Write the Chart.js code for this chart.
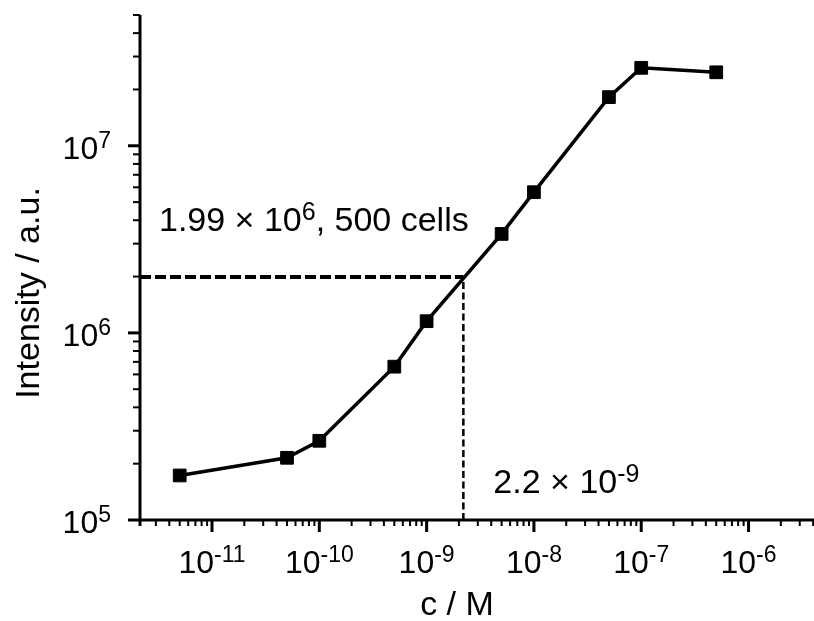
<!DOCTYPE html>
<html>
<head>
<meta charset="utf-8">
<script src="https://cdn.jsdelivr.net/npm/chart.js@4.4.0/dist/chart.umd.min.js"></script>
<style>
  html, body { margin: 0; padding: 0; background: #fff; }
  #chart { display: block; }
</style>
</head>
<body>
<canvas id="chart" width="814" height="621"></canvas>
<script>
// concentration (M) vs. measured intensity (a.u.)
const concM = [5e-12, 5e-11, 1e-10, 5e-10, 1e-9, 5e-9, 1e-8, 5e-8, 1e-7, 5e-7];
const intensity = [1.73e5, 2.15e5, 2.65e5, 6.6e5, 1.155e6, 3.38e6, 5.65e6, 1.82e7, 2.61e7, 2.47e7];

// read-out for 500 cells
const thresholdIntensity = 1.99e6;
const thresholdConc = 2.2e-9;
const thresholdCells = 500;

// decade labels
const xExponents = [-11, -10, -9, -8, -7, -6];
const yExponents = [5, 6, 7];

const X_MIN = Math.pow(10, -11.671), X_MAX = Math.pow(10, -5.39);
const Y_MIN = 1e5, Y_MAX = 5e7;

const FONT = '"Liberation Sans", Arial, sans-serif';
const TICK_PX = 32, TICK_SUP_PX = 23;
const NOTE_PX = 34, NOTE_SUP_PX = 25;
const TITLE_PX = 34;
const SUP_RISE = 11;

// 1..9 x 10^e between min and max, flagging the decades
function logTicks(min, max) {
  const out = [];
  for (let e = Math.floor(Math.log10(min)); e <= Math.ceil(Math.log10(max)); e++) {
    for (let m = 1; m <= 9; m++) {
      const v = m * Math.pow(10, e);
      if (v >= min * 0.999 && v <= max * 1.001) out.push({ v, major: m === 1 });
    }
  }
  return out;
}

// "10" with a raised exponent; returns the width drawn
function drawPower(ctx, exp, x, y, align, size, supSize) {
  const base = '10', sup = String(exp);
  ctx.font = size + 'px ' + FONT;
  const wb = ctx.measureText(base).width;
  ctx.font = supSize + 'px ' + FONT;
  const ws = ctx.measureText(sup).width;
  let left = x;
  if (align === 'center') left = x - (wb + ws) / 2;
  if (align === 'right') left = x - (wb + ws);
  ctx.textAlign = 'left';
  ctx.textBaseline = 'alphabetic';
  ctx.font = size + 'px ' + FONT;
  ctx.fillText(base, left, y);
  ctx.font = supSize + 'px ' + FONT;
  ctx.fillText(sup, left + wb, y - SUP_RISE);
  return wb + ws;
}

// plain text run, returns the width drawn
function drawRun(ctx, text, x, y, size) {
  ctx.font = size + 'px ' + FONT;
  ctx.textAlign = 'left';
  ctx.textBaseline = 'alphabetic';
  ctx.fillText(text, x, y);
  return ctx.measureText(text).width;
}

const axesPlugin = {
  id: 'axes',
  afterDraw(chart) {
    const { ctx, chartArea: a, scales: { x, y } } = chart;
    ctx.save();
    ctx.fillStyle = '#000';
    ctx.strokeStyle = '#000';
    ctx.lineCap = 'butt';

    // axis lines
    ctx.lineWidth = 3;
    ctx.beginPath();
    ctx.moveTo(a.left, a.top);
    ctx.lineTo(a.left, a.bottom + 6);
    ctx.moveTo(a.left - 1.5, a.bottom);
    ctx.lineTo(a.right, a.bottom);
    ctx.stroke();

    // x ticks (outside, below)
    logTicks(x.min, x.max).forEach(t => {
      const px = x.getPixelForValue(t.v);
      ctx.lineWidth = t.major ? 3 : 2;
      ctx.beginPath();
      ctx.moveTo(px, a.bottom);
      ctx.lineTo(px, a.bottom + (t.major ? 12 : 6));
      ctx.stroke();
    });

    // y ticks (outside, left)
    logTicks(y.min, y.max).forEach(t => {
      const py = y.getPixelForValue(t.v);
      ctx.lineWidth = t.major ? 3 : 2;
      ctx.beginPath();
      ctx.moveTo(a.left, py);
      ctx.lineTo(a.left - (t.major ? 12 : 7), py);
      ctx.stroke();
    });

    // tick labels
    xExponents.forEach(e =>
      drawPower(ctx, e, x.getPixelForValue(Math.pow(10, e)), 573, 'center', TICK_PX, TICK_SUP_PX));
    yExponents.forEach(e =>
      drawPower(ctx, e, 111, y.getPixelForValue(Math.pow(10, e)) + 13, 'right', TICK_PX, TICK_SUP_PX));

    // axis titles
    ctx.font = TITLE_PX + 'px ' + FONT;
    ctx.textAlign = 'center';
    ctx.textBaseline = 'alphabetic';
    ctx.fillText('c / M', 457, 615);
    ctx.save();
    ctx.translate(39, 293);
    ctx.rotate(-Math.PI / 2);
    ctx.fillText('Intensity / a.u.', 0, 0);
    ctx.restore();

    // read-out annotations
    const mant = (thresholdIntensity / 1e6).toFixed(2);
    let cx = 159;
    const by1 = y.getPixelForValue(thresholdIntensity) - 46;
    cx += drawRun(ctx, mant + ' \u00d7 ', cx, by1, NOTE_PX);
    cx += drawPower(ctx, 6, cx, by1, 'left', NOTE_PX, NOTE_SUP_PX);
    drawRun(ctx, ', ' + thresholdCells + ' cells', cx, by1, NOTE_PX);

    let dx = x.getPixelForValue(thresholdConc) + 30;
    const by2 = 493;
    dx += drawRun(ctx, (thresholdConc / 1e-9).toFixed(1) + ' \u00d7 ', dx, by2, NOTE_PX);
    drawPower(ctx, -9, dx, by2, 'left', NOTE_PX, NOTE_SUP_PX);

    ctx.restore();
  }
};

new Chart(document.getElementById('chart'), {
  type: 'line',
  data: {
    datasets: [
      {
        data: concM.map((c, i) => ({ x: c, y: intensity[i] })),
        borderColor: '#000',
        backgroundColor: '#000',
        borderWidth: 3.5,
        pointStyle: 'rect',
        pointRadius: 9,
        pointHoverRadius: 9,
        pointBorderWidth: 1,
        tension: 0,
        clip: false
      },
      {
        data: [{ x: X_MIN, y: thresholdIntensity }, { x: thresholdConc, y: thresholdIntensity }],
        borderColor: '#000',
        borderWidth: 4,
        borderDash: [11, 4],
        pointRadius: 0,
        clip: false
      },
      {
        data: [{ x: thresholdConc, y: Y_MIN }, { x: thresholdConc, y: thresholdIntensity }],
        borderColor: '#000',
        borderWidth: 2.5,
        borderDash: [7, 3.5],
        pointRadius: 0,
        clip: false
      }
    ]
  },
  options: {
    responsive: false,
    animation: false,
    devicePixelRatio: 1,
    events: [],
    layout: { autoPadding: false, padding: { left: 140, top: 15, right: 0, bottom: 101 } },
    plugins: { legend: { display: false }, tooltip: { enabled: false } },
    scales: {
      x: { type: 'logarithmic', min: X_MIN, max: X_MAX, display: false },
      y: { type: 'logarithmic', min: Y_MIN, max: Y_MAX, display: false }
    }
  },
  plugins: [axesPlugin]
});
</script>
</body>
</html>
